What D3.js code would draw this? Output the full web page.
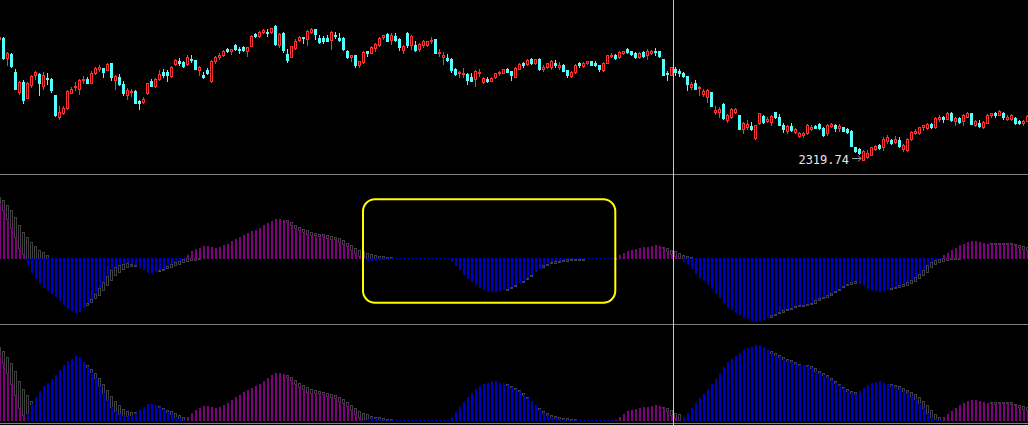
<!DOCTYPE html>
<html><head><meta charset="utf-8">
<script src="https://cdn.jsdelivr.net/npm/d3@7"></script>
<style>html,body{margin:0;padding:0;background:#000;overflow:hidden}svg{display:block}</style>
</head><body><svg id="chart" width="1028" height="425"></svg>
<script>
// ---- candle data (one entry per trading day, left to right) ----
const open = [2441,2442.3,2422.3,2426.3,2408.3,2388.3,2398,2382.3,2395,2405,
2406,2394.3,2401.7,2401,2385,2363.3,2367,2372.3,2387,2393,
2390.7,2400.3,2401,2397,2407.3,2410.7,2411.7,2410,2417,2400,
2402.7,2395.7,2385.3,2388,2389,2379,2378,2386.7,2399,2394,
2400.7,2408.3,2408.3,2404,2416,2419,2418,2415.7,2421.3,2420,
2410,2405.3,2410.3,2399,2418.7,2422.7,2425.3,2431.3,2429.3,2435,
2430.7,2432.7,2429,2434,2446.3,2444,2448,2448.3,2448.3,2454,
2434.7,2447.3,2426,2422.7,2432,2440,2442.7,2441.3,2448,2450.7,
2442,2441.7,2442,2440,2445.3,2442,2442,2429,2422.7,2425.3,
2414.7,2418,2428.7,2427.3,2432,2435,2442.7,2446,2440,2444,
2440.7,2430,2446.7,2434.7,2434.7,2431.3,2435.3,2434.7,2438.7,2441,
2427.3,2423.3,2422,2421,2411,2406.7,2405.7,2406,2403.3,2401.3,
2406.7,2398,2401.3,2399.3,2402.7,2406.7,2407.3,2411.3,2409,2402.7,
2411.3,2416.7,2415.7,2420.7,2416.7,2421.3,2411.3,2412.7,2413.3,2417.3,
2413.3,2415,2410,2404.3,2408.3,2416.7,2414,2416.7,2418.7,2416.7,
2415,2410.3,2417.3,2424,2425,2422.7,2427.3,2430.7,2428.7,2427.3,
2423.3,2428.3,2424.7,2427.3,2429.3,2428.7,2421.3,2407.3,2405.3,2411.3,
2408.7,2407.3,2404,2392.7,2397.3,2391.7,2386,2383.3,2388,2368,
2368,2376,2360,2362.7,2368,2364.7,2350.7,2353.3,2354,2341.7,
2356.7,2364.3,2359.3,2358,2367.7,2363.3,2354.7,2349.3,2354,2348.3,
2344,2344.7,2346.7,2351.3,2354.3,2355.7,2352,2346.7,2354.3,2354.7,
2352,2352.7,2351.3,2349,2332.7,2331.3,2320,2323.3,2325.3,2331.3,
2335.3,2333.3,2338.7,2340,2338,2340,2330.7,2330,2340.7,2347.3,
2347.3,2352.7,2352,2356,2353,2361.3,2363.3,2361.3,2367.3,2359.3,
2362,2359.3,2363.3,2367.3,2355,2357.3,2353.3,2357.3,2364.7,2367.3,
2365.3,2367.3,2361.3,2361.3,2362,2358.7,2357.3,2359.3];
const high = [2444,2443,2428,2427,2411,2399,2400,2398.3,2405,2409.3,
2406.7,2408,2407.3,2402.3,2385,2374,2374,2390,2393.3,2398,
2401.3,2404,2402.7,2409.3,2413.3,2415,2412.3,2417.3,2417,2405,
2406,2399,2391.7,2390.7,2390,2380,2382.7,2397.3,2400.7,2401.7,
2410,2410.7,2410,2414,2420.7,2421.7,2419,2425,2425,2420,
2414,2407.7,2411.7,2419.7,2424,2427.3,2430,2432.3,2430.7,2436,
2433.3,2433.7,2433.3,2444.7,2447.3,2449,2450.7,2450.7,2452.3,2455,
2446.7,2448,2430.7,2434,2440.7,2444.3,2443.3,2449.7,2452,2450.7,
2445.3,2443.7,2444.7,2449,2448,2446.7,2443.3,2430,2425.3,2425.3,
2419.3,2429,2429.3,2434,2436.7,2442.7,2445.3,2447,2446.7,2446.7,
2441.7,2434.7,2448,2444.7,2438.7,2437.3,2440,2439.3,2442.7,2441,
2430.7,2428,2426,2421.7,2412.3,2409.3,2411.7,2406.7,2406.7,2410,
2410.7,2403.3,2403.3,2403.3,2407.3,2409.3,2411.3,2412.3,2409.3,2412.7,
2417.3,2418.3,2420.7,2421.7,2421.3,2422,2415,2417.3,2420,2420,
2418,2416,2410,2408.7,2415.7,2417.7,2418.3,2419.3,2419.3,2418.7,
2415.3,2418,2425.3,2426.7,2425.7,2428.7,2429.3,2432,2429.3,2428,
2428,2429.3,2430.7,2430,2432,2429.3,2421.3,2409.3,2413.3,2412.7,
2410.7,2408.3,2404,2398.3,2400,2394,2390.7,2390.7,2388,2374,
2372.7,2376.7,2366,2372,2372,2364.7,2358,2360,2358,2355.3,
2367.3,2365,2362.7,2364.7,2368.3,2366,2356.7,2354.7,2357.3,2352,
2348.3,2348.3,2355.7,2355,2355,2356.7,2352.7,2355.7,2357,2356,
2356,2353.3,2352,2350,2333.3,2332,2330,2330,2333.3,2334.7,
2336,2342.7,2344.7,2340.7,2344,2342.7,2336,2342,2348.7,2350.7,
2353.3,2355.3,2356.7,2356.7,2362.7,2364.7,2364,2368,2368,2363.3,
2362.7,2365.7,2368,2367.3,2360,2360,2358.7,2366,2367.3,2368,
2370,2368.3,2364.7,2366,2362.7,2360,2360,2364.7];
const low = [2440,2421,2415,2413,2391,2386,2377.3,2382.3,2393.3,2400.7,
2385,2391,2396,2388.3,2364,2361.3,2365.7,2371.3,2387,2390,
2386.3,2396.7,2396.7,2396.7,2406.3,2409.3,2403.3,2410,2400,2391,
2395,2385,2380.7,2384,2376.7,2371.3,2377.3,2386,2394.3,2393.3,
2400,2402.7,2399.3,2403.3,2415,2415,2413.3,2415,2418.3,2410.7,
2404.7,2402.3,2406,2398.3,2417.3,2420.7,2424,2428.3,2426,2430,
2427,2429.3,2424,2434,2443.3,2442.7,2446.7,2444.3,2447.3,2435.3,
2432.7,2428,2418.3,2422.7,2431.3,2439.3,2436.7,2435,2447.3,2441.3,
2437.3,2437.3,2439,2431.3,2442.3,2438.7,2430,2422,2419.3,2413.3,
2413.3,2417.3,2424,2426.7,2429.3,2434,2440.7,2439,2436,2439.3,
2430,2427.3,2433.3,2430.7,2429.3,2429.3,2433.3,2434,2436.7,2426.7,
2424,2416,2419.3,2408.3,2405,2403.3,2403.3,2396,2398.7,2394,
2404,2396.7,2398,2398.7,2402,2405,2406.7,2408,2400,2402.7,
2410.7,2413.3,2415,2416,2416,2410,2409.3,2411.7,2410.7,2412.7,
2411,2408.7,2403.3,2403.3,2407.3,2412.7,2412.7,2416,2414.7,2414,
2409.3,2409.3,2416.7,2422.7,2421,2422,2426,2426.7,2424.7,2422,
2421.7,2423.3,2421.3,2426,2425.3,2423.3,2405,2400,2404.7,2405.3,
2404,2403.3,2390,2390.7,2390.7,2385,2384,2378,2374,2366,
2362.7,2361.3,2358,2362,2366.7,2350.7,2347.3,2350.7,2350,2341,
2356,2356.7,2358,2354.7,2362,2354.7,2348.3,2346.7,2349.3,2347.3,
2342.7,2342.7,2346,2350,2351.7,2351,2344,2345.3,2353.3,2349.3,
2349.3,2348.7,2347.3,2334,2328,2326,2319.74,2322,2324.7,2330,
2331.3,2330,2337.3,2336,2337.3,2333.3,2329.3,2329.3,2340,2346,
2346,2350,2351,2352,2352.3,2359.3,2358,2360.7,2359.3,2355.3,
2357.3,2355.3,2362.7,2356,2354,2353.3,2352,2356.7,2363.3,2363.3,
2364.7,2361.3,2360,2360,2356,2356,2355.3,2358.7];
const close = [2443,2421.7,2427,2414,2391,2397.7,2380,2397.3,2404.3,2408,
2397.3,2405.3,2401,2390,2364.7,2368,2372.3,2389,2391.3,2394.3,
2399.7,2401,2397.3,2407.3,2412,2413.3,2408,2416.3,2403.3,2404.3,
2395.7,2387,2390,2389.3,2377.3,2377.3,2380.7,2396.7,2394.3,2400.7,
2405.7,2405,2405,2413,2420,2416.7,2414.3,2423,2420,2410.7,
2413.3,2402.7,2406.7,2419,2422.7,2425.3,2428.7,2429,2430.7,2431.3,
2430,2430,2432.7,2444,2444,2448,2449.7,2447.3,2451.7,2436,
2446,2430,2420,2434,2438.7,2443.3,2442,2448.7,2451,2446,
2438.3,2439.3,2439.3,2448,2444,2440,2431,2422.7,2424.7,2414.7,
2418.7,2428,2426.7,2432.7,2436,2442,2444.7,2439.3,2445,2440,
2432.7,2434,2435,2444,2430,2436,2438.7,2438.7,2440,2427,
2428.3,2425.3,2420,2410,2406,2408.3,2407.3,2400,2399.3,2409,
2408.3,2401.7,2399.3,2402.3,2406.7,2407.7,2410.7,2408.3,2405,2411.7,
2416.3,2414.7,2420,2416.7,2420.7,2410.7,2413.3,2416.7,2418.7,2415.3,
2415.3,2409.3,2405.3,2408.3,2415,2414.7,2417.3,2418.7,2415.3,2415.3,
2410.7,2416.7,2424.7,2425.3,2421.7,2428,2428.7,2428,2426,2422.7,
2426.7,2424,2429.3,2429.3,2428,2424,2405.3,2406,2412.7,2408,
2406.7,2404,2396,2396,2391.3,2392.7,2388.7,2390,2374,2370,
2371.3,2362,2364.7,2371.3,2370.7,2351.3,2356.7,2356,2351.3,2354.7,
2366.7,2358,2361.3,2364,2362.7,2355.3,2351.3,2354,2350,2351,
2346.7,2346.7,2354.7,2353.3,2352.3,2351.7,2344.7,2354.7,2356,2351.7,
2354,2349.3,2348,2334.3,2329.3,2327,2329.3,2327.3,2332.7,2334,
2332,2340.7,2343.3,2336.7,2341.3,2334,2335.3,2341.3,2348,2349.3,
2352.7,2354.7,2356,2352.7,2362,2362.7,2361.3,2367.3,2360,2362.3,
2358,2365,2367.3,2356.3,2358.7,2354,2358,2365.3,2366.7,2364.7,
2369.3,2362.7,2363.3,2365,2356.7,2357.3,2359.3,2364];

// ---- oscillator histogram (middle panel; bottom panel shows its magnitude) ----
const histValues = [55,48.5,40,31,22,11,5,-6.5,-14,-20,-25,
-29,-32,-35,-38,-42.5,-46.5,-50,-52,-54,-53,
-49,-45,-40.5,-35.5,-29,-23,-17.5,-11.5,-8,-6,
-5,-4,-5,-6.5,-9,-11.5,-14,-14,-13,-11.5,
-10,-7.5,-5.5,-3.2,-2.2,-0.8,3.5,7,9.5,11,
12.5,12.5,12,11,12,13.5,15,17.5,20,22,
24,26,27.5,29,31,33.5,36,38,40,40,
39,37,34,31,28.5,26.5,24.5,23.5,23.5,23,
22.5,21,20,19.5,17,15,12.5,9,6,3,
-1,-2,-2.2,-2.2,-1.5,-1,-1,-0.6,-0.5,-0.5,
-0.5,-0.5,-0.5,-0.5,-0.5,-0.5,-0.5,-0.5,-0.5,-0.5,
-0.5,-0.5,-3.2,-7.5,-11.5,-16,-20,-23.5,-26.5,-29,
-31,-32,-33,-33,-32,-31.5,-30,-28,-26.5,-25,
-22,-19,-16.5,-13,-10,-6.5,-5,-3.5,-2.5,-2,
-1.5,-0.8,-0.5,-0.5,-0.5,-0.5,-0.5,-0.5,-0.5,-0.5,
-0.5,-0.5,-0.5,1,3.5,6,8,9,10,11,
12,12,12.5,13.2,12.5,11,8,5,2.5,1,
-3.2,-6.5,-10.5,-15,-19,-22.5,-26.5,-30.5,-35,-40,
-45,-49,-51.5,-54,-56.5,-59,-60.5,-62,-63,-63,
-61.5,-59,-56.5,-55,-53,-51.5,-50,-49,-47.5,-46.5,
-46.5,-45.5,-44,-42,-40,-38,-36.5,-34,-32,-30,
-27.5,-25,-23,-22.5,-25,-27.5,-30,-31.5,-32.5,-33,
-32,-31,-29.5,-28,-26.5,-25,-23,-21,-18,-15,
-11,-6.5,-3.2,-1.5,-0.8,3.5,6,8.5,11,13.5,
15,16.5,17.5,17.5,17,16,15,15,14.5,15,
15,15,14.5,13.5,12,10,9];
const shadowValues = [62,58.5,53.5,48.5,41.5,33.5,26.5,21.5,16.5,12.5,9,
6.5,4,1,-3,-8,-14,-20,-27,-34,-41,
-46,-46.5,-43,-40,-36,-31,-26,-21,-16.5,-13,
-10,-8.5,-7.5,-7.5,-8,-9,-10,-11.5,-12.5,-12.5,
-11,-9.5,-8,-6.5,-5,-3.5,-2.5,-1.5,-1,-0.5,
0.5,2,3.5,5,6.5,8,9.5,11,13,15,
17,19,21,23,25,27,29,31,33.5,36,
38,38.5,37,34,32,30,28.5,27,26,25,
24.5,23.5,22.5,21.8,20.2,18.5,16,13.5,10.5,8.5,
7,6,4.5,3.5,3,2.5,2,1.5,1,0.5,
0.3,0.2,-0.2,-0.3,-0.3,-0.3,-0.3,-0.3,-0.3,-0.3,
-0.3,-0.3,-0.5,-1.5,-4,-7,-10.5,-14,-17.5,-21,
-24,-27,-29,-30.5,-31,-31.5,-31,-29.5,-27.5,-25.5,
-23,-20,-17,-13.5,-10.8,-8.2,-6.5,-4.8,-4,-3.5,
-2.8,-2.5,-1.8,-1.5,-1.2,-1,-0.8,-0.7,-0.6,-0.5,
-0.5,-0.5,-0.5,-0.3,0.5,2,3.5,5,6.5,8,
9,10,11,11.5,12,11.5,11,9,7,5.5,
3.5,2.5,1.5,0.5,-1,-3,-6,-9,-12.5,-16,
-20,-24,-28,-32,-36,-40,-44,-48,-52,-55.5,
-58,-59,-58.2,-56.8,-54.8,-53.2,-51.5,-50.8,-48.8,-47.5,
-47,-46.5,-45.5,-44,-42,-40,-38,-36,-33.5,-31,
-28.5,-26.5,-25,-24.2,-24.5,-25.5,-27,-28.5,-29.5,-30.5,
-31,-31,-30.5,-29.8,-28.8,-27.5,-26.2,-24.2,-22.2,-19.8,
-16.5,-13.2,-8.8,-5.5,-3.5,-2.2,-1.5,-0.8,-0.8,-0.8,
2,5,8,10.5,12.5,14,15,15.5,15.5,15.5,
15.5,15.5,15.5,14.5,13.5,12.5,11.5];

const UP = "#ff3232", DOWN = "#54ffff", POS = "#800080", NEG = "#0000cc", SHADOW = "#404040";
const N = open.length;
const idx = d3.range(N);
const svg = d3.select("#chart");
svg.append("rect").attr("width",1028).attr("height",425).attr("fill","#000");

const x = d3.scaleBand().domain(idx).range([-2.5, -2.5 + 4*N]).paddingInner(0.25).paddingOuter(0.125);
const yP = d3.scaleLinear().domain([2300, 2480]).range([180, 0]);
const yM = d3.scaleLinear().domain([-65.5, 84.5]).range([324, 174]);
const yB = d3.scaleLinear().domain([0, 80]).range([421, 325]);
const R = Math.round;

// ---- candles ----
const gC = svg.append("g").attr("shape-rendering","crispEdges");
idx.forEach(i => {
  const x0 = x(i), up = close[i] >= open[i], col = up ? UP : DOWN;
  gC.append("line").attr("x1", x0+1.5).attr("x2", x0+1.5)
    .attr("y1", R(yP(high[i]))).attr("y2", R(yP(low[i]))+1).attr("stroke", col);
  const t = R(yP(Math.max(open[i], close[i]))), b = R(yP(Math.min(open[i], close[i])));
  if (up) {
    if (b - t < 2) gC.append("rect").attr("x", x0).attr("y", t).attr("width", 3).attr("height", Math.max(1, b - t + 1)).attr("fill", col);
    else gC.append("rect").attr("x", x0+0.5).attr("y", t+0.5).attr("width", 2).attr("height", b - t)
      .attr("fill", "#000").attr("stroke", col);
  } else {
    gC.append("rect").attr("x", x0).attr("y", t).attr("width", 3).attr("height", Math.max(1, b - t + 1)).attr("fill", col);
  }
});

// hollow "shadow" outline: only the part that sticks out beyond the filled bar
function shadow(g, x0, zeroTop, zeroBot, gy, vy, gv, vv) {
  let a, b;
  if ((gv >= 0) === (vv >= 0)) {
    if (Math.abs(gv) <= Math.abs(vv)) return;
    if (gv >= 0) { a = gy; b = vy; } else { a = vy; b = gy; }
  } else {
    if (gv >= 0) { a = gy; b = zeroTop; } else { a = zeroBot; b = gy; }
  }
  g.append("rect").attr("x", x0+0.5).attr("y", a+0.5).attr("width", 2).attr("height", Math.max(0, b - a))
    .attr("fill","none").attr("stroke", SHADOW);
}

// ---- middle oscillator ----
const gM = svg.append("g").attr("shape-rendering","crispEdges");
idx.forEach(i => {
  const x0 = x(i), g = shadowValues[i], v = histValues[i];
  const gy = R(yM(g)), vy = R(yM(v));
  shadow(gM, x0, 258, 258, gy, v >= 0 ? vy : vy, g, v);
  if (v >= 0) gM.append("rect").attr("x", x0+1).attr("y", vy).attr("width", 2).attr("height", Math.max(1, 259 - vy)).attr("fill", POS);
  else gM.append("rect").attr("x", x0+1).attr("y", 258).attr("width", 2).attr("height", Math.max(1, vy - 258)).attr("fill", NEG);
});

// ---- bottom panel: magnitude ----
const gB = svg.append("g").attr("shape-rendering","crispEdges");
idx.forEach(i => {
  const x0 = x(i), g = Math.abs(shadowValues[i]), v = histValues[i];
  const gy = R(yB(g)), vy = R(yB(Math.abs(v)));
  if (g > Math.abs(v)) gB.append("rect").attr("x", x0+0.5).attr("y", gy+0.5).attr("width", 2).attr("height", Math.max(0, vy - gy))
    .attr("fill","none").attr("stroke", SHADOW);
  gB.append("rect").attr("x", x0+1).attr("y", vy).attr("width", 2).attr("height", Math.max(1, 421 - vy)).attr("fill", v >= 0 ? POS : NEG);
});

// ---- separators & crosshair ----
const gL = svg.append("g").attr("shape-rendering","crispEdges");
[174.5, 324.5, 423.5].forEach(yy => gL.append("line").attr("x1",0).attr("x2",1028).attr("y1",yy).attr("y2",yy).attr("stroke","#808080"));
gL.append("line").attr("x1",673.5).attr("x2",673.5).attr("y1",0).attr("y2",425).attr("stroke","#c8c8c8");

// ---- highlight box ----
svg.append("rect").attr("x",363).attr("y",199.3).attr("width",252.3).attr("height",103.4)
  .attr("rx",12).attr("ry",12).attr("fill","none").attr("stroke","#ffff00").attr("stroke-width",2);

// ---- lowest-low label ----
const mi = d3.minIndex(low);
const lx = x(mi), ly = R(yP(low[mi]));
svg.append("text").attr("x", lx - 13).attr("y", ly + 4).attr("text-anchor","end")
  .attr("font-family","DejaVu Sans Mono, monospace").attr("font-size","12px").attr("fill","#e8e8e8")
  .text(d3.format(".2f")(low[mi]));
svg.append("path").attr("d", `M${lx-10},${ly-1.5}H${lx-1}M${lx-4},${ly-4.5}L${lx-1},${ly-1.5}L${lx-4},${ly+1.5}`)
  .attr("fill","none").attr("stroke","#a0a0a0").attr("stroke-width",1);
</script></body></html>
